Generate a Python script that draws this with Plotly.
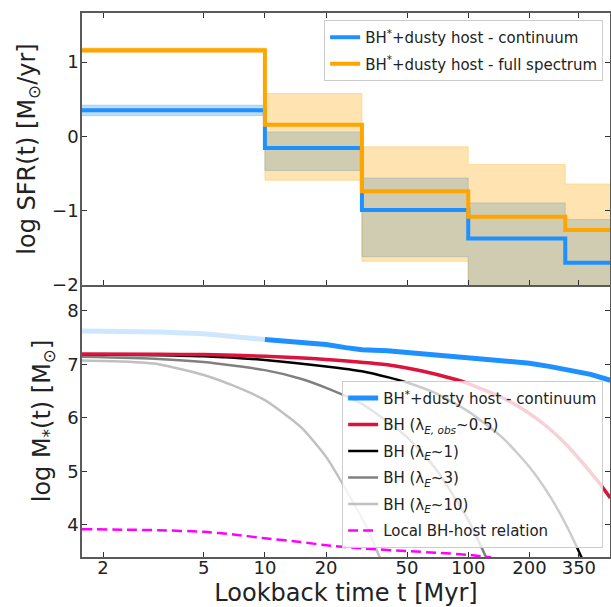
import numpy as np
import plotly.graph_objects as go
from plotly.subplots import make_subplots

# ---------------- star-formation history (top panel) ----------------
SFR_EDGES = [1.0, 10, 30, 100, 300, 500]          # lookback-time bin edges [Myr]
SFR_CONT = [0.35, -0.155, -0.99, -1.375, -1.70]
SFR_CONT_LO = [0.28, -0.46, -1.62, -2.30, -2.30]
SFR_CONT_HI = [0.42, 0.06, -0.56, -0.895, -1.12]
SFR_FULL = [1.16, 0.155, -0.74, -1.08, -1.26]
SFR_FULL_LO = [1.13, -0.59, -1.68, -2.30, -2.30]
SFR_FULL_HI = [1.19, 0.576, -0.14, -0.38, -0.64]

# ---------------- mass growth (bottom panel) ----------------
HOST_T_EARLY = [1.26, 2, 3, 5, 7, 10]
HOST_M_EARLY = [7.62, 7.615, 7.60, 7.57, 7.52, 7.46]
HOST_T = [10, 15, 20, 25, 30, 40, 50, 70, 100, 150, 200, 250, 300, 350, 400, 500]
HOST_M = [7.46, 7.42, 7.37, 7.31, 7.27, 7.25, 7.22, 7.17, 7.12, 7.08, 7.02, 6.96, 6.90, 6.86, 6.81, 6.70]

BH_OBS_T = [1.26, 3, 5, 10, 20, 40, 60, 84, 100, 150, 200, 250, 300, 350, 400, 450, 500]
BH_OBS_M = [7.19, 7.185, 7.18, 7.15, 7.09, 6.99, 6.87, 6.73, 6.64, 6.36, 6.08, 5.80, 5.52, 5.24, 4.98, 4.74, 4.50]

BH_L1_T = [1.26, 3, 5, 10, 20, 30, 41, 50, 70, 100, 150, 200, 250, 300, 360, 380]
BH_L1_M = [7.18, 7.17, 7.15, 7.08, 6.96, 6.87, 6.75, 6.66, 6.45, 6.12, 5.60, 5.08, 4.56, 4.03, 3.40, 3.19]

BH_L3_T = [1.26, 3, 5, 10, 15, 20, 30, 50, 70, 100, 125]
BH_L3_M = [7.14, 7.10, 7.04, 6.89, 6.73, 6.56, 6.26, 5.64, 5.02, 4.09, 3.32]

BH_L10_T = [1.26, 2, 3, 5, 7, 10, 15, 20, 26, 32, 38]
BH_L10_M = [7.07, 7.05, 7.00, 6.80, 6.60, 6.33, 5.83, 5.27, 4.55, 3.92, 3.25]

LOCAL_T = [1.26, 2, 3, 5, 7, 10, 15, 20, 30, 50, 70, 100, 130]
LOCAL_M = [3.92, 3.91, 3.90, 3.87, 3.82, 3.75, 3.68, 3.62, 3.56, 3.51, 3.48, 3.44, 3.39]

TICK_POS = [1.6, 5, 10, 20, 50, 100, 200, 350]
TICK_TEXT = ["2", "5", "10", "20", "50", "100", "200", "350"]

BLUE = "#1E90FF"
ORANGE = "#FFA500"
FONT = "DejaVu Sans"
AXIS_COL = "#5a5a5a"


def step_y(vals):
    return list(vals) + [vals[-1]]


fig = make_subplots(rows=2, cols=1, shared_xaxes=True, vertical_spacing=0.0)

# uncertainty bands (continuum first, full spectrum on top of it)
for lo, hi, rgb in [(SFR_CONT_LO, SFR_CONT_HI, "30,144,255"),
                    (SFR_FULL_LO, SFR_FULL_HI, "255,165,0")]:
    fig.add_trace(go.Scatter(x=SFR_EDGES, y=step_y(hi), mode="lines", line_shape="hv",
                             line=dict(color=f"rgba({rgb},0.3)", width=1),
                             showlegend=False, hoverinfo="skip"), row=1, col=1)
    fig.add_trace(go.Scatter(x=SFR_EDGES, y=step_y(lo), mode="lines", line_shape="hv",
                             line=dict(color=f"rgba({rgb},0.3)", width=1),
                             fill="tonexty", fillcolor=f"rgba({rgb},0.3)",
                             showlegend=False, hoverinfo="skip"), row=1, col=1)

fig.add_trace(go.Scatter(x=SFR_EDGES, y=step_y(SFR_CONT), mode="lines", line_shape="hv",
                         line=dict(color=BLUE, width=4),
                         name="BH<sup>*</sup>+dusty host - continuum",
                         legend="legend", legendgroup="a"), row=1, col=1)
fig.add_trace(go.Scatter(x=SFR_EDGES, y=step_y(SFR_FULL), mode="lines", line_shape="hv",
                         line=dict(color=ORANGE, width=4),
                         name="BH<sup>*</sup>+dusty host - full spectrum",
                         legend="legend", legendgroup="b"), row=1, col=1)

# bottom panel curves
smooth = dict(shape="spline", smoothing=0.6)
fig.add_trace(go.Scatter(x=BH_L10_T, y=BH_L10_M, mode="lines",
                         line=dict(color="#C0C0C0", width=2.5, **smooth),
                         name="BH (λ<sub><i>E</i></sub>~10)", legend="legend2",
                         legendgroup="g5", legendrank=5), row=2, col=1)
fig.add_trace(go.Scatter(x=BH_L3_T, y=BH_L3_M, mode="lines",
                         line=dict(color="#808080", width=2.5, **smooth),
                         name="BH (λ<sub><i>E</i></sub>~3)", legend="legend2",
                         legendgroup="g4", legendrank=4), row=2, col=1)
fig.add_trace(go.Scatter(x=BH_L1_T, y=BH_L1_M, mode="lines",
                         line=dict(color="black", width=2.5, **smooth),
                         name="BH (λ<sub><i>E</i></sub>~1)", legend="legend2",
                         legendgroup="g3", legendrank=3), row=2, col=1)
fig.add_trace(go.Scatter(x=BH_OBS_T, y=BH_OBS_M, mode="lines",
                         line=dict(color="#DC143C", width=3.5, **smooth),
                         name="BH (λ<sub><i>E, obs</i></sub>~0.5)", legend="legend2",
                         legendgroup="g2", legendrank=2), row=2, col=1)
fig.add_trace(go.Scatter(x=HOST_T_EARLY, y=HOST_M_EARLY, mode="lines",
                         line=dict(color="rgba(30,144,255,0.22)", width=5),
                         showlegend=False, hoverinfo="skip"), row=2, col=1)
fig.add_trace(go.Scatter(x=HOST_T, y=HOST_M, mode="lines",
                         line=dict(color=BLUE, width=5),
                         name="BH<sup>*</sup>+dusty host - continuum", legend="legend2",
                         legendgroup="g1", legendrank=1), row=2, col=1)
fig.add_trace(go.Scatter(x=LOCAL_T, y=LOCAL_M, mode="lines",
                         line=dict(color="#FF00FF", width=2.5, dash="10px,5px", **smooth),
                         name="Local BH-host relation", legend="legend2",
                         legendgroup="g6", legendrank=6), row=2, col=1)

axis_common = dict(showline=True, linecolor=AXIS_COL, linewidth=1.5,
                   ticks="inside", ticklen=5, tickwidth=1, tickcolor="#333",
                   showgrid=False, zeroline=False, automargin=False,
                   tickfont=dict(family=FONT, size=18, color="#222"))

xr = [np.log10(1.26), np.log10(498)]
fig.update_xaxes(type="log", range=xr, tickvals=TICK_POS, ticktext=TICK_TEXT,
                 ticklabelstandoff=-6, **axis_common)
fig.update_xaxes(mirror="ticks", row=1, col=1)
fig.update_xaxes(mirror=False, row=2, col=1,
                 title=dict(text="Lookback time t [Myr]", standoff=12,
                            font=dict(family=FONT, size=24, color="#222")))

fig.update_yaxes(ticklabelstandoff=-2, **axis_common)
fig.update_yaxes(range=[-2, 1.66], tickvals=[-2, -1, 0, 1], mirror="ticks", row=1, col=1,
                 title=dict(text="log SFR(t) [M<sub>⊙</sub>/yr]", standoff=10,
                            font=dict(family=FONT, size=24, color="#222")))
fig.update_yaxes(range=[3.40, 8.48], tickvals=[4, 5, 6, 7, 8], mirror="ticks", row=2, col=1,
                 title=dict(text="log M<sub>*</sub>(t) [M<sub>⊙</sub>]", standoff=10,
                            font=dict(family=FONT, size=24, color="#222")))

legend_font = dict(family=FONT, size=15, color="#222")
fig.update_layout(
    width=611, height=607,
    margin=dict(l=82, r=1, t=13, b=50),
    paper_bgcolor="white", plot_bgcolor="white",
    font=dict(family=FONT),
    legend=dict(x=0.987, y=0.987, xanchor="right", yanchor="top",
                bgcolor="rgba(255,255,255,0.8)", bordercolor="#cccccc", borderwidth=1,
                font=legend_font, tracegroupgap=4),
    legend2=dict(x=0.987, y=0.017, xanchor="right", yanchor="bottom",
                 bgcolor="rgba(255,255,255,0.8)", bordercolor="#cccccc", borderwidth=1,
                 font=legend_font, tracegroupgap=4),
)

fig.write_html("out.html")
